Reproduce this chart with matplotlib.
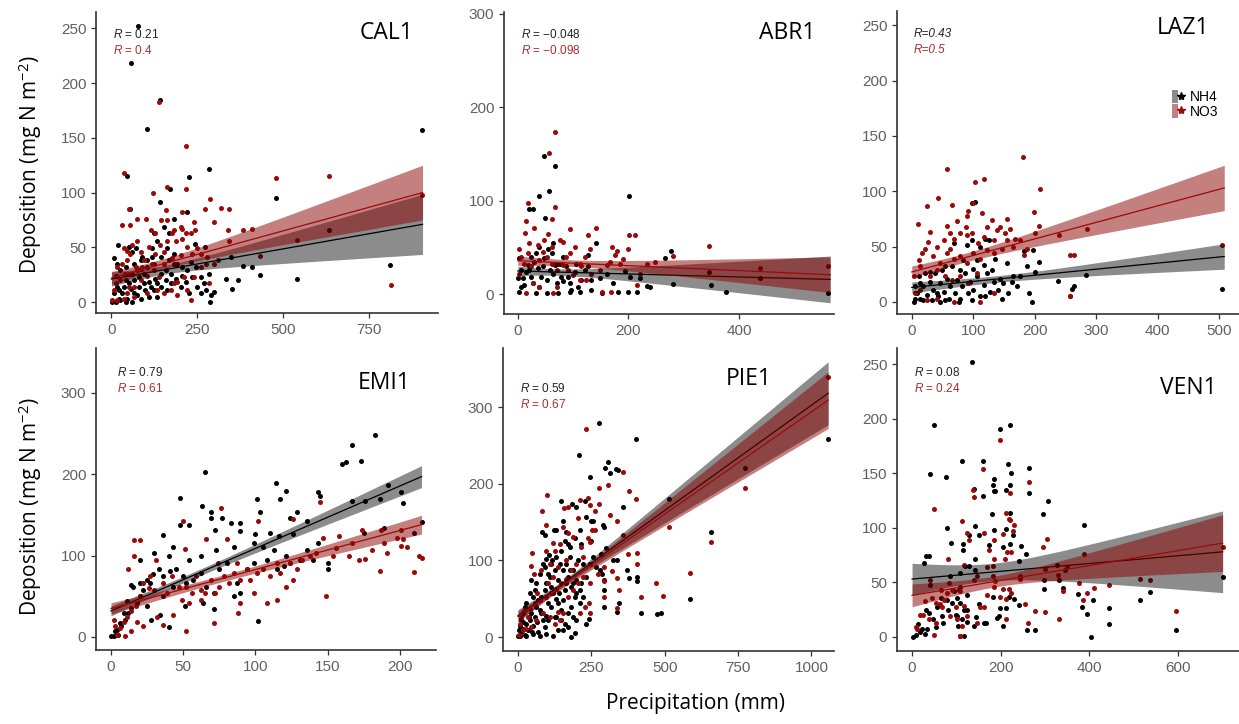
import numpy as np
import matplotlib
matplotlib.use("Agg")
import matplotlib.pyplot as plt
from matplotlib.patches import Patch
from matplotlib.lines import Line2D
from matplotlib.legend_handler import HandlerTuple

plt.rcParams['mathtext.fontset'] = 'custom'
plt.rcParams['mathtext.rm'] = 'Open Sans'
plt.rcParams['mathtext.it'] = 'Liberation Sans:italic'

# ---- data: (precipitation mm, deposition mg N m-2) ----
cal1_nh4 = [(77,252),(57,218),(141,185),(102,158),(283,122),(226,114),(46,115),(171,103),(141,91),(55,85),(221,82),(181,76),(479,95),(634,66),(811,34),(540,21),(903,157),(431,25),(408,32),(384,33),(367,20),(352,12),(286,0),(333,21),(348,41),(272,50),(243,53),
            (7,40),(17,35),(18,52),(51,50),(60,46),(70,49),(85,38),(104,38),(119,49),(124,63),(133,56),(152,69),(167,63),(163,49),(183,44),(192,35),(206,32),(221,29),(231,37),(245,32),(260,23),(270,17),(284,26),(289,6),(299,9),(226,8),(201,14),(172,17),(143,14),(124,11),(109,5),(85,3),(65,8),(46,3),(26,2),(12,0),(2,0),(7,8),(21,11),(36,14),(51,17),(65,20),(80,23),(94,26),(109,18),(128,21),(143,26),(158,29),(172,26),(187,21),(206,24),(162,11),(133,5),(99,11),(80,14),(56,12),(31,8),(17,14),(41,20),(60,26),(85,30),(104,32),(124,35),(143,41),(167,38),(182,35),(158,20),(133,17),(114,14),(75,6),(216,18),(235,23),(250,14),(275,11),(260,8),(12,24),(26,29),(41,32),(65,35),(90,41),(119,41),(94,17),(41,0),(60,0),(22,3)]
cal1_no3 = [(138,183),(36,118),(216,143),(216,103),(161,105),(122,100),(287,94),(272,85),(206,82),(320,86),(342,85),(479,113),(634,115),(902,98),(812,16),(540,57),(431,42),(408,67),(384,66),(342,56),(338,66),(299,73),(243,66),(240,73),(158,84),(101,76),(75,76),(53,70),(32,70),(51,85),(206,67),(231,2),(192,6),(311,38),(279,41),
            (7,11),(12,17),(26,20),(38,26),(46,38),(44,47),(54,44),(60,52),(75,56),(85,46),(94,38),(109,50),(119,35),(128,44),(141,52),(153,46),(162,56),(175,63),(187,56),(202,69),(216,63),(221,50),(235,44),(250,49),(260,44),(274,35),(46,8),(36,3),(65,14),(85,20),(104,24),(124,29),(138,23),(153,8),(172,11),(192,18),(211,23),(153,35),(177,40),(202,43),(17,32),(31,35),(17,2),(70,32),(90,32),(51,26),(128,63),(114,66),(143,75),(183,66),(206,58),(162,75),(230,63),(260,32),(284,17),(221,11),(65,5),(104,8),(133,11),(182,17),(240,23),(299,35),(2,2),(51,14),(75,29),(36,49)]

abr1_nh4 = [(47,148),(67,137),(57,111),(38,105),(50,82),(20,91),(27,91),(202,105),(277,46),(280,11),(377,2),(350,10),(346,24),(438,17),(562,1),(267,39),(239,8),(233,9),(215,2),(200,2),(182,3),(152,1),(221,18),(203,19),(194,25),(173,12),(161,22),(142,55),(127,42),(148,17),(133,5),(112,2),(94,2),(82,14),
            (3,39),(3,2),(6,8),(9,17),(15,24),(18,31),(24,40),(27,12),(33,1),(39,8),(42,19),(45,30),(48,39),(55,49),(61,44),(64,22),(70,12),(73,1),(76,33),(82,40),(88,30),(91,19),(97,5),(103,24),(106,33),(115,15),(121,26),(127,30),(133,15),(58,26),(52,15),(36,28),(30,35),(21,26),(12,10),(24,19),(6,26),(0,17),(79,19),(67,31),(33,44),(39,51),(52,1),(94,12),(109,8),(64,55),(70,33)]
abr1_no3 = [(67,174),(57,151),(68,93),(62,81),(19,98),(14,79),(13,66),(29,71),(95,70),(141,71),(127,63),(202,64),(212,64),(170,51),(176,42),(179,46),(200,48),(346,52),(438,28),(562,30),(281,41),(249,35),(215,10),(191,38),(167,35),(152,3),(168,3),(131,49),(121,40),(112,33),(103,51),(94,44),(82,56),(76,58),(55,65),(47,58),(36,53),(21,55),(3,49),(6,40),(12,33),(24,30),(39,37),(52,40),(61,33),(70,26),(82,31),(91,26),(100,21),(112,15),(124,15),(133,22),(148,26),(161,31),(185,33),(27,12),(15,1),(39,8),(64,1),(70,8),(3,22),(18,44),(45,45),(61,51),(88,40),(115,30),(221,22),(233,33)]

laz1_nh4 = [(102,90),(98,89),(505,12),(284,24),(258,5),(261,12),(264,14),(237,19),(207,36),(200,27),(195,0),(190,8),(187,32),(197,47),(182,46),(165,23),(155,35),(144,21),(136,39),(125,56),(119,57),(111,50),(106,38),(98,56),(89,51),(84,38),(68,53),
            (3,0),(5,14),(8,8),(11,23),(14,3),(19,14),(22,26),(24,6),(30,18),(33,2),(35,11),(38,26),(43,5),(46,17),(49,29),(52,9),(57,21),(60,3),(62,14),(65,32),(70,8),(73,20),(79,3),(81,14),(87,26),(92,8),(95,18),(100,11),(106,23),(111,5),(117,15),(122,26),(127,9),(133,18),(141,11),(149,17),(157,8),(163,18),(171,14),(176,23),(14,17),(41,8),(54,2),(76,0),(98,2),(119,5),(146,3),(30,27),(54,32),(79,29),(100,30),(117,33),(130,29),(5,3),(19,2),(46,0)]
laz1_no3 = [(181,131),(57,120),(117,111),(103,108),(208,102),(42,94),(25,87),(65,88),(100,89),(92,82),(89,78),(114,80),(198,81),(10,70),(57,69),(73,73),(88,68),(122,68),(131,74),(155,75),(144,68),(159,66),(207,69),(200,62),(239,60),(285,66),(505,51),(258,42),(263,42),(258,5),(187,48),(182,42),(168,57),(165,50),(152,62),(138,65),(134,56),(117,59),(108,53),(98,62),(79,62),(68,57),(62,48),(52,56),(41,50),(29,63),(27,54),(16,44),(11,38),(3,23),(5,8),(14,32),(22,48),(35,41),(46,35),(57,44),(68,39),(79,41),(89,35),(100,44),(111,39),(122,47),(133,44),(146,48),(155,56),(176,56),(30,23),(41,29),(54,23),(65,20),(79,23),(92,17),(106,26),(14,11),(24,2),(41,3),(68,0),(111,0),(133,8),(62,62),(89,60)]

emi1_nh4 = [(183,248),(167,236),(163,215),(160,213),(173,216),(65,203),(114,189),(121,179),(143,178),(145,173),(192,187),(201,178),(186,169),(176,167),(167,167),(202,164),(101,170),(117,170),(48,171),(63,161),(69,153),(69,146),(103,153),(77,146),(83,140),(89,140),(129,153),(124,146),(136,142),(48,138),(54,137),(36,125),(72,132),(89,130),(100,126),(110,128),(116,124),(126,127),(175,128),(189,134),(210,128),(215,141),(150,91),(150,84),(140,95),(121,99),(113,107),(105,111),(99,116),(85,111),(73,107),(62,99),(54,95),(43,111),(40,99),(30,103),(20,95),(102,20),(40,12),(34,27),(25,38),(15,62),(14,64),(11,44),(9,30),(6,17),(4,9),(2,1),(0,1),(3,7),(5,3),(7,13),(10,21),(12,30),(14,36),(18,42),(20,50),(22,58),(25,70),(27,66),(29,77),(33,83),(36,75),(41,81),(45,83),(50,75),(52,66),(57,70),(62,79),(66,62),(71,54),(64,42),(71,34),(51,38),(36,50),(43,62),(75,83),(80,91),(87,66),(89,54),(85,50),(94,83),(99,91),(108,95),(115,83),(120,87),(124,91),(131,95),(136,107),(143,116),(20,66),(28,21)]
emi1_no3 = [(76,159),(102,143),(50,142),(66,120),(51,108),(31,95),(16,99),(20,119),(16,119),(12,84),(145,166),(126,145),(174,132),(187,132),(213,99),(210,80),(176,96),(191,103),(186,81),(201,112),(202,120),(167,116),(154,99),(149,50),(147,122),(158,124),(126,70),(121,62),(115,46),(108,42),(99,54),(89,42),(88,30),(71,17),(52,7),(43,27),(36,15),(32,25),(22,13),(18,19),(14,7),(10,1),(4,3),(6,11),(3,13),(2,21),(9,19),(11,25),(14,32),(17,38),(20,50),(22,66),(27,75),(26,60),(30,58),(36,66),(39,54),(42,75),(47,62),(49,46),(52,62),(56,54),(59,75),(62,46),(65,54),(69,70),(72,54),(75,62),(78,75),(82,66),(85,79),(89,70),(94,83),(96,70),(101,79),(105,83),(110,75),(115,91),(117,79),(124,91),(129,83),(132,95),(138,99),(142,103),(156,109),(165,99),(172,95),(181,107),(189,116),(198,122),(201,132),(205,111),(54,42),(62,58),(74,91),(80,120),(87,91),(215,97)]

pie1_nh4 = [(275,279),(403,258),(208,238),(307,229),(312,214),(295,220),(333,219),(341,218),(244,209),(358,170),(515,180),(775,220),(657,137),(585,50),(489,31),(475,30),(420,31),(406,78),(406,73),(380,77),(372,88),(338,101),(324,100),(346,44),(338,33),(294,40),(294,62),(294,74),(301,116),(284,108),(278,87),(287,82),(294,144),(290,146),(256,151),(248,151),(250,126),(227,177),(233,157),(210,140),(197,170),(184,174),(145,178),(155,151),(122,140),(131,140),(83,137),(93,133),(165,137),(170,122),(159,126),(176,118),(193,129),(216,122),(242,24),(231,17),(199,22),(182,0),(193,5),(170,13),(153,9),(136,9),(148,22),(131,26),(97,28),(1057,259),
            (6,1),(11,7),(17,11),(23,3),(28,17),(34,9),(40,22),(45,31),(51,15),(57,26),(62,39),(68,7),(74,35),(80,52),(85,22),(91,61),(97,70),(102,44),(108,78),(114,96),(119,57),(125,87),(131,105),(136,74),(142,96),(148,113),(153,87),(159,61),(165,96),(170,78),(176,105),(182,65),(187,87),(193,52),(199,74),(204,100),(210,44),(216,70),(221,96),(233,78),(244,96),(256,105),(267,92),(51,52),(62,70),(74,83),(40,57),(28,44),(17,31),(11,22),(23,39),(45,74),(57,61),(68,48),(80,31),(91,13),(102,22),(114,39),(125,26),(136,44),(148,35),(159,17),(170,31),(182,39),(187,26),(51,4),(74,2),(97,4),(119,2),(28,2),(0,2),(3,9),(8,15),(17,20),(37,26),(49,7),(65,20),(85,96),(94,102),(106,107),(117,100),(91,92),(102,83),(111,65),(128,50),(140,57),(153,48),(165,70),(176,87),(187,70),(199,57),(210,61),(221,52)]
pie1_no3 = [(233,271),(275,195),(307,198),(358,215),(380,191),(403,180),(312,159),(337,151),(358,133),(515,143),(775,195),(657,124),(587,84),(471,71),(494,54),(420,52),(407,110),(407,96),(374,108),(338,77),(346,62),(338,38),(321,86),(294,73),(294,53),(292,92),(273,83),(242,44),(244,70),(275,174),(239,181),(247,172),(261,164),(253,140),(264,140),(239,129),(244,124),(210,179),(204,155),(170,170),(156,168),(83,164),(99,185),(97,146),(120,123),(94,112),(49,110),(45,93),(53,82),(80,87),(153,143),(170,136),(187,131),(216,118),(221,105),(199,96),(182,87),(165,76),(148,70),(131,63),(114,57),(97,52),(74,48),(57,44),(40,37),(23,35),(11,26),(6,17),(17,9),(28,11),(45,13),(62,22),(85,31),(108,26),(125,17),(142,22),(136,33),(153,31),(170,52),(187,61),(204,70),(221,78),(119,78),(102,70),(136,92),(165,100),(108,96),(125,113),(144,122),(66,57),(34,26),(3,3),(227,39),(210,31),(244,31),(1057,339)]

ven1_nh4 = [(135,252),(50,194),(199,191),(222,194),(113,161),(161,161),(40,149),(76,147),(216,159),(224,150),(263,155),(265,132),(139,136),(160,129),(184,145),(182,139),(184,134),(188,134),(212,135),(220,139),(306,125),(295,113),(180,113),(220,114),(387,103),(79,100),(89,86),(142,102),(128,93),(150,93),(184,98),(211,99),(227,93),(205,82),(222,85),(247,83),(257,76),(241,70),(173,84),(116,80),(116,85),(32,74),(28,68),(38,74),(141,71),(120,65),(128,65),(109,59),(141,61),(86,56),(41,48),(327,66),(346,61),(297,52),(331,52),(340,45),(297,44),(375,39),(383,27),(395,21),(408,34),(405,0),(444,26),(444,12),(515,34),(538,41),(595,6),(701,55),(259,6),(278,6),(242,29),(231,35),(199,26),(211,26),(205,10),(192,17),(197,19),(182,37),(218,37),(162,13),(168,13),(144,18),(139,10),(150,30),(124,25),(123,38),(117,1),(109,1),(113,16),(117,25),(102,19),(99,20),(104,10),(102,36),(94,42),(105,43),(109,46),(79,34),(65,36),(68,19),(70,13),(53,9),(47,16),(34,7),(30,3),(17,4),(14,12),(8,2),(2,0),(23,7),(32,25),(38,22),(56,27),(81,25),(90,31),(109,31),(124,14)]
ven1_no3 = [(199,181),(159,154),(139,128),(137,135),(50,117),(265,142),(222,132),(212,114),(218,108),(222,107),(229,103),(113,106),(124,95),(128,89),(162,95),(205,94),(184,89),(227,97),(305,90),(295,82),(387,76),(701,82),(80,71),(214,78),(224,78),(209,71),(184,71),(173,80),(182,65),(169,64),(118,66),(147,56),(139,52),(83,49),(41,52),(243,53),(244,56),(299,62),(329,57),(350,64),(376,49),(340,42),(385,34),(395,40),(410,45),(444,48),(515,53),(538,52),(595,24),(331,16),(299,23),(278,24),(256,30),(261,13),(223,40),(205,44),(199,37),(184,46),(169,38),(188,51),(182,56),(211,35),(211,16),(218,44),(154,27),(162,27),(147,13),(124,19),(117,28),(109,1),(113,10),(102,16),(100,27),(90,43),(109,42),(79,40),(65,43),(71,34),(64,30),(55,31),(44,36),(30,33),(19,20),(25,20),(38,16),(50,2),(11,7),(8,9),(53,13),(68,27),(86,19)]

# fitted lines: x start, x end, y at start, y at end
# and 95% band half widths: at start, narrowest, at end
cal1_nh4_fit, cal1_nh4_ci = [0, 905, 21, 71], [6.5, 4, 27.5]
cal1_no3_fit, cal1_no3_ci = [0, 905, 22, 100], [6, 4.5, 25]
abr1_nh4_fit, abr1_nh4_ci = [0, 565, 25, 16], [5, 3.5, 25]
abr1_no3_fit, abr1_no3_ci = [0, 565, 36, 21], [5, 3.5, 19]
laz1_nh4_fit, laz1_nh4_ci = [0, 508, 13, 41], [5, 3, 11.5]
laz1_no3_fit, laz1_no3_ci = [0, 508, 27, 103], [5.5, 4, 20.5]
emi1_nh4_fit, emi1_nh4_ci = [0, 215, 32, 197], [6, 4, 13.5]
emi1_no3_fit, emi1_no3_ci = [0, 215, 35, 138], [7, 4, 11.5]
pie1_nh4_fit, pie1_nh4_ci = [0, 1057, 28, 318], [8, 4, 41]
pie1_no3_fit, pie1_no3_ci = [0, 1057, 27, 309], [7, 4, 37]
ven1_nh4_fit, ven1_nh4_ci = [0, 701, 53, 78], [14.5, 8, 37.5]
ven1_no3_fit, ven1_no3_ci = [0, 701, 38, 86], [10.5, 5, 26]

titles = ["CAL1", "ABR1", "LAZ1", "EMI1", "PIE1", "VEN1"]
r_nh4 = ["0.21", "\u22120.048", "0.43", "0.79", "0.59", "0.08"]
r_no3 = ["0.4", "\u22120.098", "0.5", "0.61", "0.67", "0.24"]
xticks = [[0, 250, 500, 750], [0, 200, 400], [0, 100, 200, 300, 400, 500],
          [0, 50, 100, 150, 200], [0, 250, 500, 750, 1000], [0, 200, 400, 600]]
yticks = [[0, 50, 100, 150, 200, 250], [0, 100, 200, 300], [0, 50, 100, 150, 200, 250],
          [0, 100, 200, 300], [0, 100, 200, 300], [0, 50, 100, 150, 200, 250]]
xlims = [(-45, 950), (-25, 572), (-24, 532), (-10.4, 225), (-51, 1077), (-34, 738)]
ylims = [(-10, 265), (-21, 302), (-11, 263), (-16, 355), (-18, 377), (-13, 265)]

W, H = 1239, 724
# axes boxes in pixels: left, top, right, bottom
boxes = [(96, 12, 438, 313), (504, 12, 834, 314), (897, 11, 1239, 314),
         (96, 348, 436, 650), (503, 348, 834, 651), (897, 348, 1239, 651)]
title_pos = [(413, 33), (815, 33), (1209, 28), (410, 383), (772, 379), (1217, 388)]
r_pos = [(113, 35), (521, 35), (914, 34), (117, 372), (520, 388), (914, 372)]

nh4_sets = [cal1_nh4, abr1_nh4, laz1_nh4, emi1_nh4, pie1_nh4, ven1_nh4]
no3_sets = [cal1_no3, abr1_no3, laz1_no3, emi1_no3, pie1_no3, ven1_no3]
nh4_fits = [(cal1_nh4_fit, cal1_nh4_ci), (abr1_nh4_fit, abr1_nh4_ci), (laz1_nh4_fit, laz1_nh4_ci),
            (emi1_nh4_fit, emi1_nh4_ci), (pie1_nh4_fit, pie1_nh4_ci), (ven1_nh4_fit, ven1_nh4_ci)]
no3_fits = [(cal1_no3_fit, cal1_no3_ci), (abr1_no3_fit, abr1_no3_ci), (laz1_no3_fit, laz1_no3_ci),
            (emi1_no3_fit, emi1_no3_ci), (pie1_no3_fit, pie1_no3_ci), (ven1_no3_fit, ven1_no3_ci)]

RED = '#9b0a0a'
RED_TXT = '#b22a2a'


def draw_fit(ax, fit, ci, line_col, fill_col, alpha, z):
    x0, x1, y0, y1 = fit
    h0, hmin, h1 = ci
    # hyperbolic band like a linear-model confidence interval
    sb = (np.sqrt(h0**2 - hmin**2) + np.sqrt(h1**2 - hmin**2)) / (x1 - x0)
    c = x0 + np.sqrt(h0**2 - hmin**2) / sb
    xx = np.linspace(x0, x1, 200)
    yy = y0 + (y1 - y0) * (xx - x0) / (x1 - x0)
    hh = np.sqrt(hmin**2 + (sb * (xx - c))**2)
    ax.fill_between(xx, yy - hh, yy + hh, color=fill_col, alpha=alpha, lw=0, zorder=z)
    ax.plot(xx, yy, color=line_col, lw=0.9, zorder=z + 0.5)


fig = plt.figure(figsize=(W / 100, H / 100), dpi=100)

for i in range(6):
    l, t, r, b = boxes[i]
    ax = fig.add_axes([l / W, 1 - b / H, (r - l) / W, (b - t) / H])
    nh = np.array(nh4_sets[i], dtype=float)
    no = np.array(no3_sets[i], dtype=float)
    ax.scatter(nh[:, 0], nh[:, 1], s=13, color='black', lw=0, zorder=2)
    ax.scatter(no[:, 0], no[:, 1], s=13, color=RED, lw=0, zorder=2.2)
    draw_fit(ax, *nh4_fits[i], 'black', 'black', 0.45, 3)
    draw_fit(ax, *no3_fits[i], RED, '#8B0000', 0.5, 4)

    ax.set_xlim(*xlims[i])
    ax.set_ylim(*ylims[i])
    ax.set_xticks(xticks[i])
    ax.set_yticks(yticks[i])
    for s in ['top', 'right']:
        ax.spines[s].set_visible(False)
    for s in ['left', 'bottom']:
        ax.spines[s].set_color('#333333')
        ax.spines[s].set_linewidth(1.2)
    ax.tick_params(length=3.5, width=0.9, color='#333333', labelcolor='#606060',
                   labelsize=11)
    for lab in ax.get_xticklabels() + ax.get_yticklabels():
        lab.set_family('Liberation Sans')
    ax.patch.set_alpha(0)

    tx, ty = title_pos[i]
    fig.text(tx / W, 1 - ty / H, titles[i], ha='right', va='center',
             fontsize=16.5, family='Open Sans', color='black')
    rx, ry = r_pos[i]
    if titles[i] == "LAZ1":
        fig.text(rx / W, 1 - ry / H, "R=" + r_nh4[i], fontsize=8.5, style='italic',
                 family='Liberation Sans', color='#222222', va='center')
        fig.text(rx / W, 1 - (ry + 16) / H, "R=" + r_no3[i], fontsize=8.5, style='italic',
                 family='Liberation Sans', color=RED_TXT, va='center')
    else:
        fig.text(rx / W, 1 - ry / H, r"$\mathit{R}$ = " + r_nh4[i], fontsize=8.5,
                 family='Liberation Sans', color='#222222', va='center')
        fig.text(rx / W, 1 - (ry + 16) / H, r"$\mathit{R}$ = " + r_no3[i], fontsize=8.5,
                 family='Liberation Sans', color=RED_TXT, va='center')

    if titles[i] == "LAZ1":
        h_nh4 = (Patch(facecolor='black', alpha=0.45, lw=0),
                 Line2D([], [], marker='*', color='black', ls='', ms=6))
        h_no3 = (Patch(facecolor='#8B0000', alpha=0.5, lw=0),
                 Line2D([], [], marker='*', color=RED, ls='', ms=6))
        ax.legend([h_nh4, h_no3], ['NH4', 'NO3'], handler_map={tuple: HandlerTuple(ndivide=None, pad=0)},
                  loc='upper left', bbox_to_anchor=((1165 - l) / (r - l), 1 - (83 - t) / (b - t)),
                  frameon=False, handlelength=0.9, handleheight=1.1,
                  handletextpad=0.4, labelspacing=0.0, borderpad=0,
                  prop={'family': 'Liberation Sans', 'size': 10})

fig.text(30 / W, 1 - 165 / H, "Deposition (mg N m$^{-2}$)", rotation=90,
         ha='center', va='center', fontsize=15, family='Open Sans')
fig.text(30 / W, 1 - 507 / H, "Deposition (mg N m$^{-2}$)", rotation=90,
         ha='center', va='center', fontsize=15, family='Open Sans')
fig.text(696 / W, 1 - 703 / H, "Precipitation (mm)", ha='center', va='center',
         fontsize=15, family='Open Sans')

fig.savefig('out.png', dpi=100)
